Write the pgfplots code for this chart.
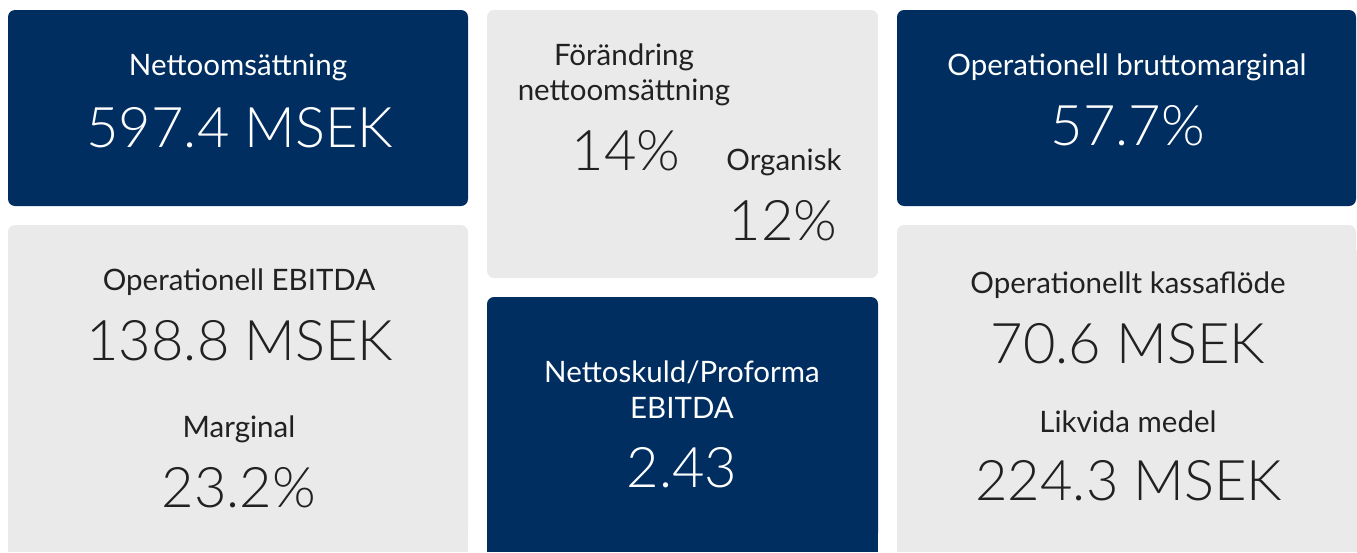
\documentclass[border=0pt]{standalone}
\usepackage{pgfplots}
\pgfplotsset{compat=1.18}
\usepackage{fontspec}
\setmainfont{Lato}
\newfontfamily\lightfont{Lato Light}
\definecolor{navy}{RGB}{1,46,97}
\definecolor{tilegrey}{RGB}{234,234,234}
\definecolor{ink}{RGB}{33,33,33}
\begin{document}
\begin{tikzpicture}
\begin{axis}[x=1pt,y=1pt,xmin=0,xmax=1357,ymin=0,ymax=552,y dir=reverse,
  hide axis, clip=true, scale only axis]
\addplot[draw=none] coordinates {(0,0) (1357,552)};
% tiles
\fill[navy, rounded corners=7pt] (axis cs:8,10) rectangle (axis cs:468,206);
\fill[tilegrey, rounded corners=7pt] (axis cs:487,10) rectangle (axis cs:878,278);
\fill[navy, rounded corners=7pt] (axis cs:897,10) rectangle (axis cs:1356,206);
\fill[tilegrey, rounded corners=7pt] (axis cs:8,225) rectangle (axis cs:468,540);
\fill[tilegrey] (axis cs:8,250) rectangle (axis cs:468,552);
\fill[navy, rounded corners=7pt] (axis cs:487,297) rectangle (axis cs:878,540);
\fill[navy] (axis cs:487,320) rectangle (axis cs:878,552);
\fill[tilegrey, rounded corners=7pt] (axis cs:897,225) rectangle (axis cs:1356,540);
\fill[tilegrey] (axis cs:897,250) rectangle (axis cs:1357,552);
% labels
\tikzset{lab/.style={anchor=base, inner sep=0pt, font=\fontsize{29.5}{34}\selectfont},
         num/.style={anchor=base, inner sep=0pt, font=\lightfont\fontsize{56}{60}\selectfont}}
\node[lab, text=white] at (axis cs:238,75) {Nettoomsättning};
\node[num, text=white] at (axis cs:240,147) {597.4 MSEK};
\node[lab, text=ink] at (axis cs:624,65) {Förändring};
\node[lab, text=ink] at (axis cs:624,100) {nettoomsättning};
\node[num, text=ink] at (axis cs:626,170) {14\%};
\node[lab, text=ink] at (axis cs:784,170) {Organisk};
\node[num, text=ink] at (axis cs:783,240) {12\%};
\node[lab, text=white] at (axis cs:1127,75) {Operationell bruttomarginal};
\node[num, text=white] at (axis cs:1128,145) {57.7\%};
\node[lab, text=ink] at (axis cs:239,290) {Operationell EBITDA};
\node[num, text=ink] at (axis cs:240,360) {138.8 MSEK};
\node[lab, text=ink] at (axis cs:239,437) {Marginal};
\node[num, text=ink] at (axis cs:239,507) {23.2\%};
\node[lab, text=white] at (axis cs:682,382) {Nettoskuld/Proforma};
\node[lab, text=white] at (axis cs:682,418) {EBITDA};
\node[num, text=white] at (axis cs:682,487) {2.43};
\node[lab, text=ink] at (axis cs:1128,293) {Operationellt kassaflöde};
\node[num, text=ink] at (axis cs:1128,363) {70.6 MSEK};
\node[lab, text=ink] at (axis cs:1128,432) {Likvida medel};
\node[num, text=ink] at (axis cs:1129,500) {224.3 MSEK};
\end{axis}
\end{tikzpicture}
\end{document}
